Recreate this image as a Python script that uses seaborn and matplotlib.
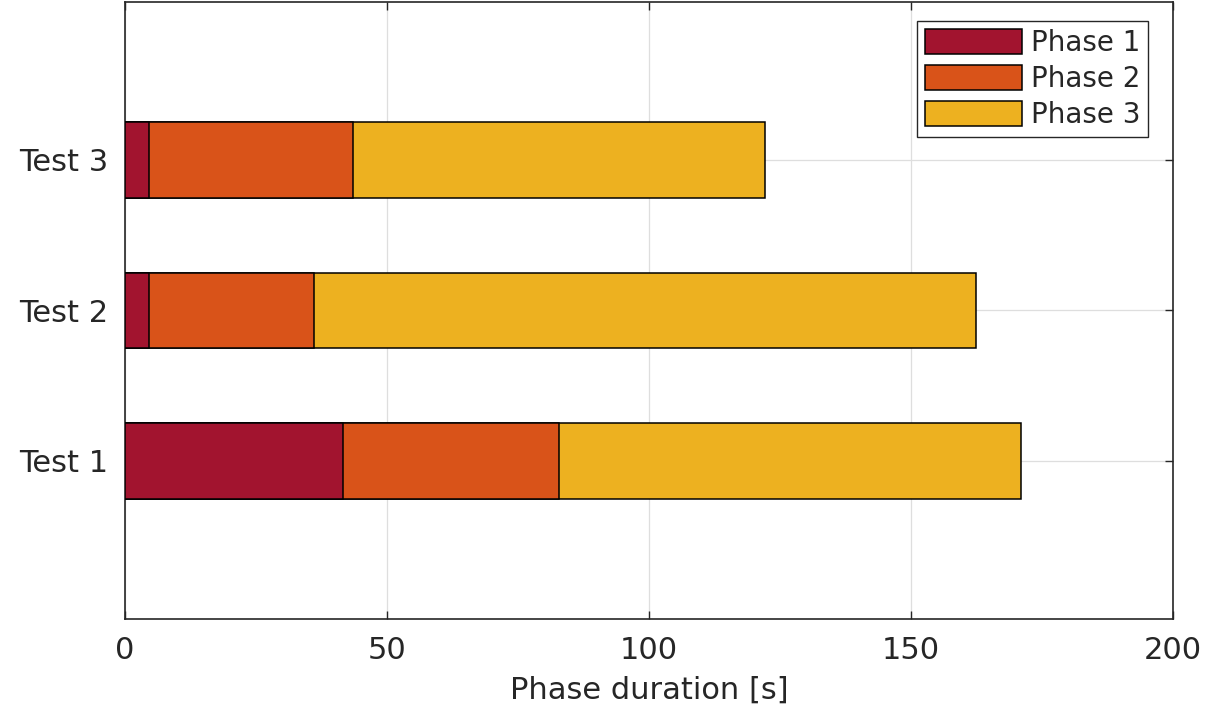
import matplotlib
matplotlib.use('Agg')
import matplotlib.pyplot as plt
import numpy as np
import pandas as pd
import seaborn as sns

# data
tests = ['Test 1', 'Test 2', 'Test 3']
phase1 = [41.6, 4.6, 4.6]
phase2 = [41.2, 31.5, 38.9]
phase3 = [88.2, 126.3, 78.6]
phase_names = ['Phase 1', 'Phase 2', 'Phase 3']
phase_colors = ['#A2142F', '#D95319', '#EDB120']
xticks = [0, 50, 100, 150, 200]

sns.set_theme(style='white')
plt.rcParams['font.family'] = ['DejaVu Sans']
plt.rcParams['text.color'] = '#262626'
plt.rcParams['axes.labelcolor'] = '#262626'
plt.rcParams['xtick.color'] = '#262626'
plt.rcParams['ytick.color'] = '#262626'

df = pd.DataFrame({'test': tests, 'p1': phase1, 'p2': phase2, 'p3': phase3})
df['c1'] = df['p1']
df['c2'] = df['p1'] + df['p2']
df['c3'] = df['c2'] + df['p3']

fig = plt.figure(figsize=(12.07, 7.10), dpi=100)
ax = fig.add_axes([0.1036, 0.1282, 0.8682, 0.869])

order = ['Test 3', 'Test 2', 'Test 1']
# stacked: draw cumulative totals, longest first
for col, name, colr in zip(['c3', 'c2', 'c1'], phase_names[::-1], phase_colors[::-1]):
    sns.barplot(data=df, x=col, y='test', order=order, orient='h', color=colr,
                width=0.5, edgecolor='black', linewidth=1.1, saturation=1,
                label=name, ax=ax, zorder=3)

ax.set_xlim(0, 200)
ax.set_ylim(3.05, -1.05)
ax.set_xticks(xticks)
ax.set_xlabel('Phase duration [s]', fontsize=22, labelpad=8)
ax.set_ylabel('')
ax.grid(True, color='#dedede', linewidth=0.9)
ax.set_axisbelow(True)
for s in ax.spines.values():
    s.set_visible(True)
    s.set_color('#262626')
    s.set_linewidth(1.2)
ax.tick_params(axis='both', direction='in', length=6, width=1.0,
               top=True, right=True, bottom=True, left=True, labelsize=22)
ax.tick_params(axis='x', pad=12)
ax.tick_params(axis='y', pad=12)

h, l = ax.get_legend_handles_labels()
pairs = sorted(zip(l, h))
leg = ax.legend([p[1] for p in pairs], [p[0] for p in pairs],
                loc='upper right', bbox_to_anchor=(1148 / 1207, 1 - 21 / 710),
                bbox_transform=fig.transFigure, borderaxespad=0,
                fontsize=20, handlelength=3.5, handleheight=1.0,
                labelspacing=0.3, handletextpad=0.3, borderpad=0.28,
                fancybox=False, framealpha=1, edgecolor='#262626')
leg.get_frame().set_linewidth(1.0)

fig.savefig('out.png', dpi=100)
